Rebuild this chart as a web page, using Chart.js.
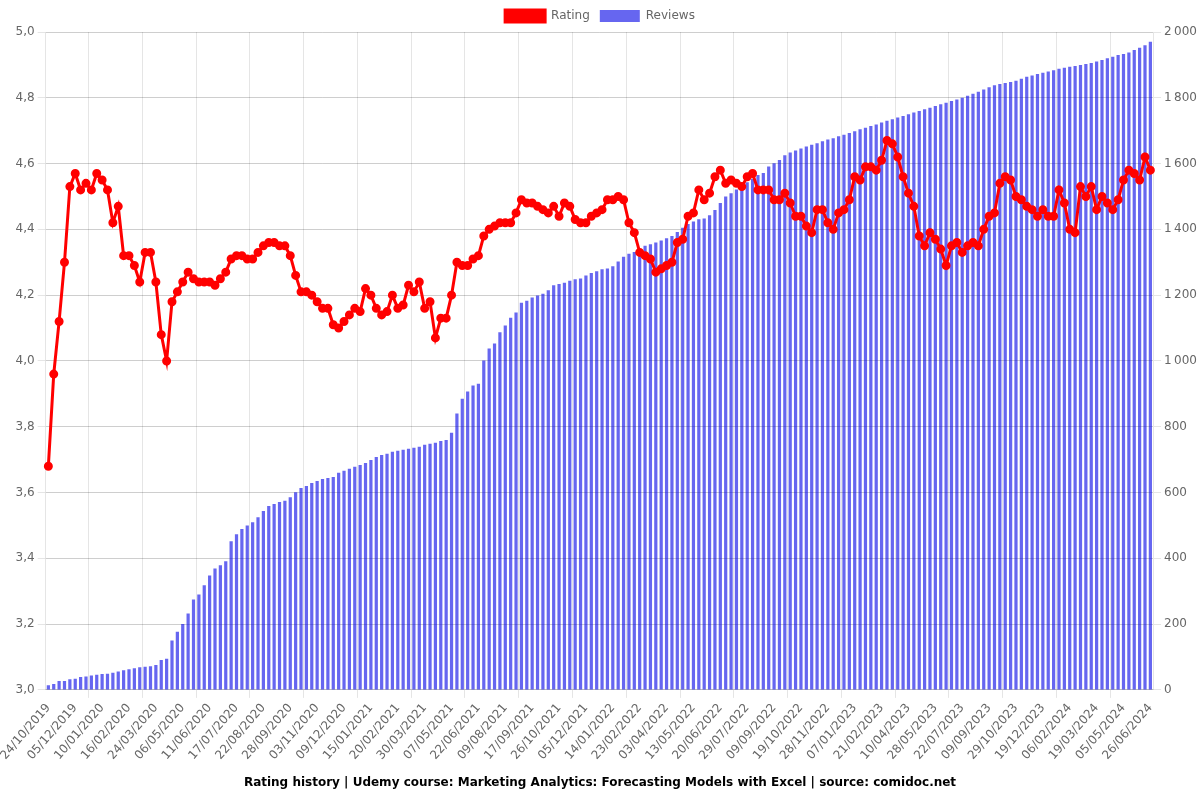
<!DOCTYPE html>
<html>
<head>
<meta charset="utf-8">
<title>Rating history</title>
<script src="https://cdn.jsdelivr.net/npm/chart.js@4"></script>
<style>
  body { margin: 0; background: #fff; }
  #wrap { width: 1200px; height: 800px; }
</style>
</head>
<body>
<div id="wrap"><canvas id="ratingChart"></canvas></div>
<script>
// visible date ticks (every 5th point on the axis)
const tickDates = [
  '24/10/2019', '05/12/2019', '10/01/2020', '16/02/2020', '24/03/2020', '06/05/2020',
  '11/06/2020', '17/07/2020', '22/08/2020', '28/09/2020', '03/11/2020', '09/12/2020',
  '15/01/2021', '20/02/2021', '30/03/2021', '07/05/2021', '22/06/2021', '09/08/2021',
  '17/09/2021', '26/10/2021', '05/12/2021', '14/01/2022', '23/02/2022', '03/04/2022',
  '13/05/2022', '20/06/2022', '29/07/2022', '09/09/2022', '19/10/2022', '28/11/2022',
  '07/01/2023', '21/02/2023', '10/04/2023', '28/05/2023', '22/07/2023', '09/09/2023',
  '29/10/2023', '19/12/2023', '06/02/2024', '19/03/2024', '05/05/2024', '26/06/2024'
];

// average rating per snapshot
const ratings = [
  3.68, 3.96, 4.12, 4.30, 4.53, 4.57, 4.52, 4.54, 4.52, 4.57,
  4.55, 4.52, 4.42, 4.47, 4.32, 4.32, 4.29, 4.24, 4.33, 4.33,
  4.24, 4.08, 4.00, 4.18, 4.21, 4.24, 4.27, 4.25, 4.24, 4.24,
  4.24, 4.23, 4.25, 4.27, 4.31, 4.32, 4.32, 4.31, 4.31, 4.33,
  4.35, 4.36, 4.36, 4.35, 4.35, 4.32, 4.26, 4.21, 4.21, 4.20,
  4.18, 4.16, 4.16, 4.11, 4.10, 4.12, 4.14, 4.16, 4.15, 4.22,
  4.20, 4.16, 4.14, 4.15, 4.20, 4.16, 4.17, 4.23, 4.21, 4.24,
  4.16, 4.18, 4.07, 4.13, 4.13, 4.20, 4.30, 4.29, 4.29, 4.31,
  4.32, 4.38, 4.40, 4.41, 4.42, 4.42, 4.42, 4.45, 4.49, 4.48,
  4.48, 4.47, 4.46, 4.45, 4.47, 4.44, 4.48, 4.47, 4.43, 4.42,
  4.42, 4.44, 4.45, 4.46, 4.49, 4.49, 4.50, 4.49, 4.42, 4.39,
  4.33, 4.32, 4.31, 4.27, 4.28, 4.29, 4.30, 4.36, 4.37, 4.44,
  4.45, 4.52, 4.49, 4.51, 4.56, 4.58, 4.54, 4.55, 4.54, 4.53,
  4.56, 4.57, 4.52, 4.52, 4.52, 4.49, 4.49, 4.51, 4.48, 4.44,
  4.44, 4.41, 4.39, 4.46, 4.46, 4.42, 4.40, 4.45, 4.46, 4.49,
  4.56, 4.55, 4.59, 4.59, 4.58, 4.61, 4.67, 4.66, 4.62, 4.56,
  4.51, 4.47, 4.38, 4.35, 4.39, 4.37, 4.34, 4.29, 4.35, 4.36,
  4.33, 4.35, 4.36, 4.35, 4.40, 4.44, 4.45, 4.54, 4.56, 4.55,
  4.50, 4.49, 4.47, 4.46, 4.44, 4.46, 4.44, 4.44, 4.52, 4.48,
  4.40, 4.39, 4.53, 4.50, 4.53, 4.46, 4.50, 4.48, 4.46, 4.49,
  4.55, 4.58, 4.57, 4.55, 4.62, 4.58
];

// number of reviews per snapshot
const reviews = [
  14, 18, 27, 27, 32, 34, 39, 41, 44, 46,
  48, 49, 52, 56, 60, 63, 66, 69, 70, 72,
  76, 91, 95, 150, 177, 200, 232, 275, 290, 318,
  348, 369, 379, 391, 452, 473, 489, 500, 510, 525,
  544, 559, 565, 571, 575, 586, 601, 614, 620, 629,
  635, 641, 644, 647, 660, 666, 672, 678, 684, 690,
  699, 708, 714, 718, 724, 727, 730, 733, 736, 739,
  745, 748, 751, 757, 760, 782, 840, 885, 907, 925,
  931, 1001, 1038, 1053, 1087, 1108, 1131, 1147, 1177, 1183,
  1193, 1199, 1204, 1215, 1230, 1234, 1238, 1244, 1248, 1251,
  1260, 1267, 1273, 1279, 1281, 1288, 1302, 1317, 1326, 1331,
  1336, 1350, 1355, 1360, 1366, 1373, 1380, 1392, 1405, 1416,
  1424, 1431, 1433, 1443, 1459, 1480, 1500, 1510, 1521, 1530,
  1543, 1554, 1565, 1571, 1591, 1601, 1611, 1625, 1634, 1640,
  1646, 1652, 1657, 1662, 1668, 1673, 1677, 1683, 1688, 1693,
  1698, 1704, 1709, 1714, 1719, 1725, 1730, 1735, 1740, 1745,
  1750, 1755, 1760, 1765, 1770, 1775, 1780, 1785, 1790, 1795,
  1800, 1806, 1812, 1818, 1825, 1832, 1838, 1842, 1845, 1848,
  1852, 1858, 1864, 1868, 1872, 1876, 1880, 1884, 1888, 1891,
  1894, 1897, 1900, 1903, 1906, 1910, 1915, 1920, 1925, 1930,
  1933, 1938, 1945, 1952, 1960, 1970
];

// the hidden labels between two visible ticks are just spread dates,
// only every 5th label is ever drawn
function parseDate(s) {
  const p = s.split('/');
  return new Date(Date.UTC(+p[2], +p[1] - 1, +p[0]));
}
function fmtDate(d) {
  const dd = String(d.getUTCDate()).padStart(2, '0');
  const mm = String(d.getUTCMonth() + 1).padStart(2, '0');
  return dd + '/' + mm + '/' + d.getUTCFullYear();
}
const labels = [];
for (let t = 0; t < tickDates.length; t++) {
  labels.push(tickDates[t]);
  if (t === tickDates.length - 1) break;
  const a = parseDate(tickDates[t]).getTime();
  const b = parseDate(tickDates[t + 1]).getTime();
  for (let k = 1; k < 5; k++) {
    const day = Math.round((a + (b - a) * k / 5) / 86400000) * 86400000;
    labels.push(fmtDate(new Date(day)));
  }
}

Chart.defaults.font.family = "'DejaVu Sans', sans-serif";
Chart.defaults.font.size = 12;
Chart.defaults.color = '#666';

const ctx = document.getElementById('ratingChart').getContext('2d');
const ratingChart = new Chart(ctx, {
  type: 'bar',
  data: {
    labels: labels,
    datasets: [
      {
        type: 'line',
        label: 'Rating',
        data: ratings,
        yAxisID: 'y',
        borderColor: 'rgb(255, 0, 0)',
        backgroundColor: 'rgb(255, 0, 0)',
        borderWidth: 3,
        pointRadius: 3,
        tension: 0
      },
      {
        label: 'Reviews',
        data: reviews,
        yAxisID: 'y1',
        backgroundColor: 'rgba(0, 0, 230, 0.6)',
        barPercentage: 0.75
      }
    ]
  },
  options: {
    locale: 'fr-FR', // gives 4,8 and 1 800 on the axes
    responsive: true,
    maintainAspectRatio: false,
    animation: false,
    plugins: {
      legend: { position: 'top' },
      title: {
        display: true,
        position: 'bottom',
        text: 'Rating history | Udemy course: Marketing Analytics: Forecasting Models with Excel | source: comidoc.net',
        color: '#000',
        font: { size: 12, weight: 'bold' }
      }
    },
    scales: {
      x: {
        ticks: {
          autoSkip: true,
          maxTicksLimit: 42
        }
      },
      y: {
        position: 'left',
        min: 3,
        max: 5,
        ticks: { stepSize: 0.2 }
      },
      y1: {
        position: 'right',
        min: 0,
        max: 2000,
        ticks: { stepSize: 200 }
      }
    }
  }
});
</script>
</body>
</html>
